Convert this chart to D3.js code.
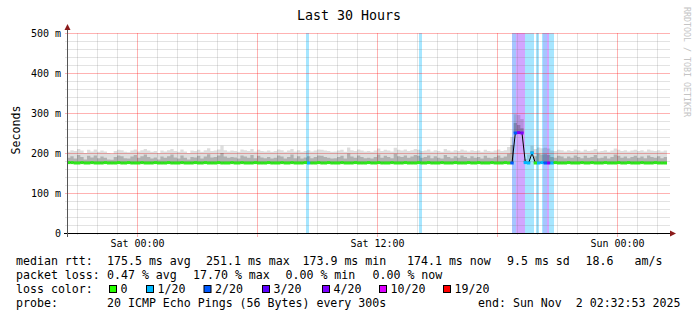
<!DOCTYPE html>
<html><head><meta charset="utf-8">
<script src="https://cdn.jsdelivr.net/npm/d3@7"></script>
<style>
body{margin:0;background:#fff}
svg{display:block}
text{font-family:"DejaVu Sans Mono",monospace;fill:#000;white-space:pre}
</style>
</head><body><svg id="c" width="697" height="321"></svg>
<script>
// ---- data ----
const startTime = new Date(2025, 9, 31, 20, 30);   // Fri 20:30
const endTime   = new Date(2025, 10, 2, 2, 30);    // Sun 02:30
const stepMinutes = 10;
const median = [
176,176,175,175,176,175,175,176,175,175,
175,176,175,175,175,176,175,175,176,175,
175,175,176,175,175,175,176,175,175,175,
176,175,175,175,176,175,175,175,176,175,
175,176,175,175,175,176,175,175,175,176,
175,175,176,175,175,175,176,175,175,175,
176,175,175,175,176,175,175,176,175,175,
175,176,175,175,175,176,175,175,176,175,
175,175,176,175,175,175,176,175,175,175,
176,175,175,176,175,175,175,176,175,175,
175,176,175,175,175,176,175,175,176,175,
175,175,176,175,175,175,176,175,175,175,
176,175,175,176,175,175,175,176,175,175,
175,176,175,175,250,251,250,176,175,200,
175,175,176,175,175,175,176,175,175,175,
176,175,175,175,176,175,175,176,175,175,
175,176,175,175,175,176,175,175,176,175,
175,175,176,175,175,175,176,175,175,175];
const pingP75 = [
188,192,186,195,190,184,193,189,194,187,
191,188,184,183,190,194,192,187,186,191,
195,188,192,196,190,186,189,184,191,188,
192,196,189,186,194,188,184,190,189,193,
186,191,197,189,190,194,200,191,188,190,
189,186,194,191,188,195,187,193,189,187,
190,186,188,194,191,186,190,196,187,192,
186,189,192,187,190,194,193,190,188,186,
187,190,193,186,199,191,188,194,190,187,
188,186,190,196,188,193,190,187,198,192,
190,194,188,191,195,193,188,190,194,187,
192,188,186,195,190,187,192,188,194,190,
187,192,188,190,186,193,188,187,190,194,
188,191,198,220,275,270,262,180,178,205,
192,198,196,197,195,190,188,193,191,187,
191,188,194,190,187,193,188,190,195,187,
188,192,186,190,196,193,188,191,187,190,
193,188,191,187,194,190,188,192,187,190];
const pingMax = [
203,207,205,210,206,200,208,204,209,203,
206,204,200,199,205,208,207,203,202,206,
209,204,207,210,206,203,205,200,206,204,
207,210,205,203,209,204,200,206,205,208,
203,207,212,205,206,209,218,207,204,206,
205,203,209,207,205,210,204,208,205,204,
206,203,205,209,207,203,206,210,204,207,
203,205,207,204,206,209,208,206,205,203,
204,206,208,203,214,207,205,209,206,204,
205,203,206,211,205,208,206,204,213,208,
206,209,205,207,210,208,205,206,209,204,
207,205,203,210,206,204,207,205,209,206,
204,207,205,206,203,208,205,204,206,209,
205,207,215,240,297,295,285,185,196,218,
210,214,212,213,211,206,205,208,207,204,
207,205,209,206,204,208,205,206,210,204,
205,207,203,206,211,208,205,207,204,206,
208,205,207,204,209,206,205,207,204,206];
// loss events (hours after start, count of 20 lost)
const lossStartH = [11.95, 17.6, 22.25, 22.45, 22.9, 23.45, 23.75, 23.8, 24.0, 24.1];
const lossEndH   = [12.1, 17.75, 22.45, 22.9, 23.35, 23.6, 23.8, 24.0, 24.1, 24.35];
const lossCount  = [1, 1, 2, 4, 1, 1, 1, 2, 4, 1];
// legend
const lossLevels = [0, 1, 2, 3, 4, 10, 19];
const lossLabels = ["0", "1/20", "2/20", "3/20", "4/20", "10/20", "19/20"];
const lossColors = ["#26ff00", "#00b8ff", "#0059ff", "#5e00ff", "#7e00ff", "#dd00ff", "#ff0000"];
const yTicks = [0, 100, 200, 300, 400, 500];
const yTickLabels = ["0", "100 m", "200 m", "300 m", "400 m", "500 m"];
const xTickLabels = ["Sat 00:00", "Sat 12:00", "Sun 00:00"];
const titleText = "Last 30 Hours";
const statsRtt = ["median rtt:", "175.5 ms avg", "251.1 ms max", "173.9 ms min", "174.1 ms now", "9.5 ms sd", "18.6", "am/s"];
const statsLoss = ["packet loss:", "0.47 % avg", "17.70 % max", "0.00 % min", "0.00 % now"];
const probeRow = ["probe:", "20 ICMP Echo Pings (56 Bytes) every 300s", "end: Sun Nov  2 02:32:53 2025"];

// ---- drawing ----
const svg = d3.select("#c");
const X0 = 67, X1 = 667, Y0 = 233, Y1 = 33;
const x = d3.scaleTime().domain([startTime, endTime]).range([X0, X1]);
const y = d3.scaleLinear().domain([0, 500]).range([Y0, Y1]);
const stepMs = stepMinutes * 60000;
const hMs = 3600000;
const tAt = h => new Date(+startTime + h * hMs);

function levelIndex(n) { let k = 0; lossLevels.forEach((l, i) => { if (n >= l) k = i; }); return k; }
function lossAt(t) {
  const h = (t - startTime) / hMs;
  for (let i = 0; i < lossStartH.length; i++) if (h >= lossStartH[i] && h < lossEndH[i]) return lossCount[i];
  return 0;
}

// loss background bands
lossStartH.forEach((h, i) => {
  const xa = x(tAt(h)), xb = x(tAt(lossEndH[i]));
  svg.append("rect").attr("x", xa).attr("y", Y1).attr("width", xb - xa).attr("height", Y0 - Y1)
    .attr("fill", lossColors[levelIndex(lossCount[i])]).attr("fill-opacity", 0.35);
});

// grid
const g = svg.append("g").attr("shape-rendering", "crispEdges");
for (let v = 20; v < 500; v += 20) {
  if (v % 100 === 0) continue;
  g.append("line").attr("x1", X0 - 2).attr("x2", X1 + 3).attr("y1", Math.round(y(v)) + 0.5).attr("y2", Math.round(y(v)) + 0.5)
    .attr("stroke", "#808080").attr("stroke-opacity", 0.22);
}
x.ticks(d3.timeHour.every(1)).forEach(t => {
  if (t.getHours() % 6 === 0) return;
  const px = Math.round(x(t)) + 0.5;
  g.append("line").attr("x1", px).attr("x2", px).attr("y1", Y1).attr("y2", Y0 + 2)
    .attr("stroke", "#808080").attr("stroke-opacity", 0.22);
});
yTicks.filter(v => v > 0).forEach(v => {
  g.append("line").attr("x1", X0 - 2).attr("x2", X1 + 3).attr("y1", Math.round(y(v)) + 0.5).attr("y2", Math.round(y(v)) + 0.5)
    .attr("stroke", "#ff0000").attr("stroke-opacity", 0.3);
});
x.ticks(d3.timeHour.every(6)).forEach(t => {
  const px = Math.round(x(t)) + 0.5;
  g.append("line").attr("x1", px).attr("x2", px).attr("y1", Y1).attr("y2", Y0 + 4)
    .attr("stroke", "#ff0000").attr("stroke-opacity", 0.3);
});

// smoke
const idx = d3.range(median.length + 1);
const vi = i => Math.min(i, median.length - 1);
const xs = i => x(new Date(+startTime + i * stepMs));
const areaMax = d3.area().x(xs).y0(i => y(median[vi(i)])).y1(i => y(pingMax[vi(i)])).curve(d3.curveStepAfter);
const areaMid = d3.area().x(xs).y0(i => y(median[vi(i)])).y1(i => y(pingP75[vi(i)])).curve(d3.curveStepAfter);
svg.append("path").attr("d", areaMax(idx)).attr("fill", "#000").attr("fill-opacity", 0.13);
svg.append("path").attr("d", areaMid(idx)).attr("fill", "#000").attr("fill-opacity", 0.2);

// median line: thin black path + loss-coloured steps
const lineMed = d3.line().x((d, i) => x(new Date(+startTime + (i + 0.5) * stepMs))).y(d => y(d));
svg.append("path").attr("d", lineMed(median)).attr("fill", "none").attr("stroke", "#000").attr("stroke-width", 1);
median.forEach((m, i) => {
  const ta = new Date(+startTime + i * stepMs), tb = new Date(+startTime + (i + 1) * stepMs);
  const tc = new Date(+startTime + (i + 0.5) * stepMs);
  const li = levelIndex(lossAt(tc));
  svg.append("line").attr("x1", x(ta)).attr("x2", x(tb)).attr("y1", y(m)).attr("y2", y(m))
    .attr("stroke", li === 0 ? "#2ee81a" : lossColors[li]).attr("stroke-width", 3);
});

// axes lines + arrows
svg.append("line").attr("x1", X0 - 3).attr("x2", X1 + 5).attr("y1", Y0 + 0.5).attr("y2", Y0 + 0.5)
  .attr("stroke", "#000").attr("shape-rendering", "crispEdges");
svg.append("line").attr("x1", X0 + 0.5).attr("x2", X0 + 0.5).attr("y1", Y0 + 4).attr("y2", Y1 - 5)
  .attr("stroke", "#555").attr("shape-rendering", "crispEdges");
svg.append("path").attr("d", `M${X1 + 3},${Y0 - 2.5} L${X1 + 9},${Y0 + 0.5} L${X1 + 3},${Y0 + 3.5} Z`).attr("fill", "#8b1a1a");
svg.append("path").attr("d", `M${X0 - 2.5},${Y1 - 3} L${X0 + 0.5},${Y1 - 9} L${X0 + 3.5},${Y1 - 3} Z`).attr("fill", "#8b1a1a");

// y tick labels
const yAxis = d3.axisLeft(y).tickValues(yTicks).tickSize(0).tickPadding(0).tickFormat((d, i) => yTickLabels[i]);
const ya = svg.append("g").attr("transform", `translate(${X0 - 6},0)`).call(yAxis);
ya.select(".domain").remove();
ya.selectAll("text").attr("font-family", "DejaVu Sans Mono").attr("font-size", 10).attr("fill", "#000");

// x tick labels
const xTicks = x.ticks(d3.timeHour.every(12));
const xAxis = d3.axisBottom(x).tickValues(xTicks).tickSize(0).tickPadding(0).tickFormat((d, i) => xTickLabels[i]);
const xa = svg.append("g").attr("transform", `translate(0,${Y0 + 7})`).call(xAxis);
xa.select(".domain").remove();
xa.selectAll("text").attr("font-family", "DejaVu Sans Mono").attr("font-size", 10).attr("fill", "#000");

// title, axis title, watermark
svg.append("text").attr("x", 349).attr("y", 20).attr("text-anchor", "middle").attr("font-size", 13.3).text(titleText);
svg.append("text").attr("transform", "translate(20,130) rotate(-90)").attr("text-anchor", "middle").attr("font-size", 11.6).text("Seconds");
svg.append("text").attr("transform", "translate(684,7) rotate(90)").attr("font-size", 8.3).style("fill", "#c4c4c4").text("RRDTOOL / TOBI OETIKER");

// legend
const fs = 11.6;
const row1X = [16, 107, 206, 302.5, 407, 507, 585.5, 634.5];
statsRtt.forEach((s, i) => svg.append("text").attr("x", row1X[i]).attr("y", 265).attr("font-size", fs).text(s));
const row2X = [16, 107, 193, 285.5, 372.5];
statsLoss.forEach((s, i) => svg.append("text").attr("x", row2X[i]).attr("y", 279).attr("font-size", fs).text(s));
svg.append("text").attr("x", 16).attr("y", 293).attr("font-size", fs).text("loss color:");
const swX = [109.5, 146.5, 204, 262.5, 322.5, 379.5, 443.5];
lossLabels.forEach((s, i) => {
  svg.append("rect").attr("x", swX[i]).attr("y", 285.5).attr("width", 7).attr("height", 7)
    .attr("fill", lossColors[i]).attr("stroke", "#000").attr("stroke-width", 1);
  svg.append("text").attr("x", swX[i] + 11).attr("y", 293).attr("font-size", fs).text(s);
});
const row4X = [16, 107, 478];
probeRow.forEach((s, i) => svg.append("text").attr("x", row4X[i]).attr("y", 307).attr("font-size", fs).text(s));
</script>
</body></html>
